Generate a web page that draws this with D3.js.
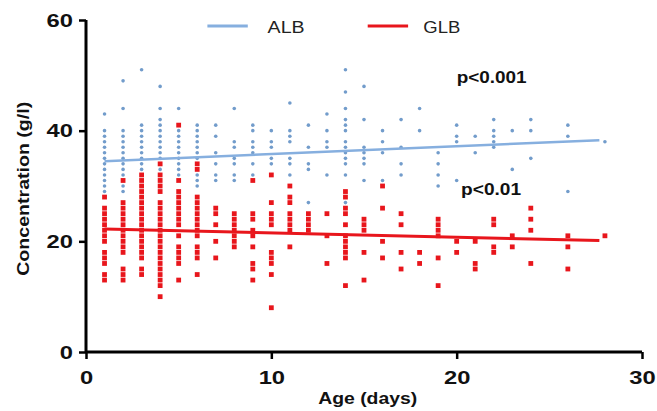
<!DOCTYPE html>
<html>
<head>
<meta charset="utf-8">
<script src="https://cdn.jsdelivr.net/npm/d3@7"></script>
<style>
  body { margin: 0; background: #fff; }
  svg { font-family: Arial, "Liberation Sans", sans-serif; }
</style>
</head>
<body>
<div id="chart"></div>
<script>
// age in days, one entry per column of points
const days = d3.range(1, 29);

// ALB values (g/l) per day
const albByDay = [
  [43, 40, 39, 38, 37, 36, 35, 34, 33, 32, 31, 30, 29],
  [49, 44, 40, 39, 38, 37, 36, 35, 34, 33, 32, 30, 29],
  [51, 41, 40, 39, 38, 37, 36, 35, 34, 33],
  [48, 44, 42, 41, 40, 39, 38, 37, 36, 35, 33],
  [44, 40, 39, 38, 37, 36, 35, 34, 33, 32],
  [41, 40, 39, 38, 37, 36, 35, 32, 31, 30],
  [41, 39, 36, 34, 32, 31],
  [44, 38, 37, 35, 34, 32, 31],
  [41, 40, 38, 37, 36, 34, 32],
  [40, 38, 37, 35, 34],
  [45, 40, 39, 38, 35, 34, 32],
  [41, 37, 34, 33, 27],
  [43, 40, 38, 37, 32],
  [51, 47, 44, 42, 41, 40, 38, 37, 36, 35, 34, 32, 27],
  [48, 42, 37, 36, 35, 34, 31],
  [40, 38, 36, 31],
  [42, 37, 34, 32],
  [44, 40],
  [36, 34, 32, 30],
  [41, 39, 38, 31],
  [39, 36],
  [42, 40, 39, 38, 37],
  [40, 33],
  [42, 40, 35],
  [],
  [41, 39, 29],
  [],
  [38]
];

// GLB values (g/l) per day
const glbByDay = [
  [28, 26, 25, 24, 23, 22, 21, 20, 18, 17, 16, 14, 13],
  [31, 27, 26, 25, 24, 23, 22, 21, 20, 19, 18, 15, 14, 13],
  [32, 31, 30, 29, 28, 27, 26, 25, 24, 23, 22, 21, 20, 19, 18, 17, 15, 14],
  [34, 32, 31, 30, 29, 27, 26, 25, 24, 23, 22, 21, 20, 19, 18, 17, 16, 15, 14, 13, 12, 10],
  [41, 31, 29, 28, 27, 26, 25, 24, 23, 21, 19, 18, 17, 16, 13],
  [34, 33, 28, 27, 26, 25, 24, 23, 22, 21, 19, 18, 17, 14],
  [26, 25, 23, 20, 17],
  [25, 24, 23, 22, 21, 20, 19],
  [31, 25, 24, 22, 21, 19, 16, 15, 13],
  [32, 27, 25, 24, 23, 18, 17, 16, 14, 8],
  [30, 28, 27, 25, 24, 23, 22, 19],
  [25, 24, 23, 22],
  [25, 21, 16],
  [29, 28, 26, 25, 23, 21, 20, 19, 18, 17, 12],
  [24, 23, 22, 18, 13],
  [30, 26, 20, 17],
  [25, 23, 18, 15],
  [18, 16],
  [24, 23, 22, 21, 17, 12],
  [20, 18],
  [20, 16, 15],
  [24, 23, 19, 18],
  [21, 19],
  [26, 24, 22, 16],
  [],
  [21, 19, 15],
  [],
  [21]
];

// fitted regression lines as shown on the chart: [intercept, slope]
const albFit = [34.35, 0.142];
const glbFit = [22.3, -0.078];
const fitRange = [1, 27.7];

const xTicks = [0, 10, 20, 30];
const yTicks = [0, 20, 40, 60];

const MARGINS = {top: 20, right: 15, bottom: 59, left: 86};
const WIDTH = 657 - MARGINS.left - MARGINS.right;
const HEIGHT = 411 - MARGINS.top - MARGINS.bottom;

const ALB_COLOR = "#729ccb";
const ALB_LINE = "#86afdf";
const GLB_COLOR = "#e8161c";

// the original picture is a bit wider than tall, so text is stretched sideways
function stretch(sel, factor, fixed) {
  sel.each(function () {
    const w = fixed || this.getComputedTextLength() * factor;
    d3.select(this)
      .attr("textLength", w)
      .attr("lengthAdjust", "spacingAndGlyphs");
  });
}

const svg = d3.select("#chart")
  .append("svg")
    .attr("width", 657)
    .attr("height", 411)
  .append("g")
    .attr("transform", `translate(${MARGINS.left}, ${MARGINS.top})`);

const x = d3.scaleLinear().domain([0, 30]).range([0, WIDTH]);
const y = d3.scaleLinear().domain([0, 60]).range([HEIGHT, 0]);

const albPoints = days.flatMap((d, i) => albByDay[i].map(v => ({day: d, value: v})));
const glbPoints = days.flatMap((d, i) => glbByDay[i].map(v => ({day: d, value: v})));

// ALB dots
svg.append("g").selectAll("circle")
  .data(albPoints)
  .enter().append("circle")
    .attr("cx", d => x(d.day))
    .attr("cy", d => y(d.value))
    .attr("r", 1.8)
    .attr("fill", ALB_COLOR);

// ALB fit
const line = d3.line().x(d => x(d[0])).y(d => y(d[1]));
svg.append("path")
  .datum(fitRange.map(t => [t, albFit[0] + albFit[1] * t]))
  .attr("fill", "none")
  .attr("stroke", ALB_LINE)
  .attr("stroke-width", 2.5)
  .attr("d", line);

// GLB squares
svg.append("g").selectAll("rect")
  .data(glbPoints)
  .enter().append("rect")
    .attr("x", d => x(d.day) - 2.4)
    .attr("y", d => y(d.value) - 2.4)
    .attr("width", 4.8)
    .attr("height", 4.8)
    .attr("fill", GLB_COLOR);

svg.append("path")
  .datum(fitRange.map(t => [t, glbFit[0] + glbFit[1] * t]))
  .attr("fill", "none")
  .attr("stroke", GLB_COLOR)
  .attr("stroke-width", 3)
  .attr("d", line);

// axes
const xAxis = svg.append("g")
  .attr("transform", `translate(0, ${HEIGHT})`)
  .call(d3.axisBottom(x).tickValues(xTicks).tickSize(7).tickPadding(12));
const yAxis = svg.append("g")
  .call(d3.axisLeft(y).tickValues(yTicks).tickSize(7).tickPadding(6));

[xAxis, yAxis].forEach(g => {
  g.select(".domain").attr("stroke", "#000").attr("stroke-width", 3);
  g.selectAll(".tick line").attr("stroke", "#000").attr("stroke-width", 2.5);
  g.selectAll(".tick text")
    .attr("fill", "#111")
    .attr("font-size", 19)
    .attr("font-weight", "bold")
    .attr("font-family", "Arial, 'Liberation Sans', sans-serif")
    .call(stretch, 1.25);
});
xAxis.select(".domain").attr("d", `M0,0H${WIDTH}`);
yAxis.select(".domain").attr("d", `M0,${HEIGHT}V0`);

// axis titles
svg.append("text")
  .attr("x", x(15.2))
  .attr("y", HEIGHT + 52)
  .attr("text-anchor", "middle")
  .attr("font-size", 16)
  .attr("font-weight", "bold")
  .attr("fill", "#111")
  .text("Age (days)")
  .call(stretch, 1, 99);

svg.append("text")
  .attr("transform", "rotate(-90)")
  .attr("x", -(y(29.5)))
  .attr("y", -57)
  .attr("text-anchor", "middle")
  .attr("font-size", 16)
  .attr("font-weight", "bold")
  .attr("fill", "#111")
  .text("Concentration (g/l)")
  .call(stretch, 1, 174);

// legend
const legend = [
  {name: "ALB", color: ALB_LINE, lx: 6.55, tx: 9.8},
  {name: "GLB", color: GLB_COLOR, lx: 15.2, tx: 18.2}
];
legend.forEach(l => {
  svg.append("line")
    .attr("x1", x(l.lx)).attr("x2", x(l.lx + 2.18))
    .attr("y1", y(58.9)).attr("y2", y(58.9))
    .attr("stroke", l.color)
    .attr("stroke-width", 3);
  svg.append("text")
    .attr("x", x(l.tx))
    .attr("y", y(58.9) + 7)
    .attr("font-size", 16)
    .attr("fill", "#222")
    .text(l.name)
    .call(stretch, 1, 37);
});

// p-values
svg.append("text")
  .attr("x", x(20.0))
  .attr("y", y(48.6))
  .attr("font-size", 17)
  .attr("font-weight", "bold")
  .attr("fill", "#111")
  .text("p<0.001")
  .call(stretch, 1, 70);

svg.append("text")
  .attr("x", x(20.24))
  .attr("y", y(28.4))
  .attr("font-size", 17)
  .attr("font-weight", "bold")
  .attr("fill", "#111")
  .text("p<0.01")
  .call(stretch, 1, 60);
</script>
</body>
</html>
